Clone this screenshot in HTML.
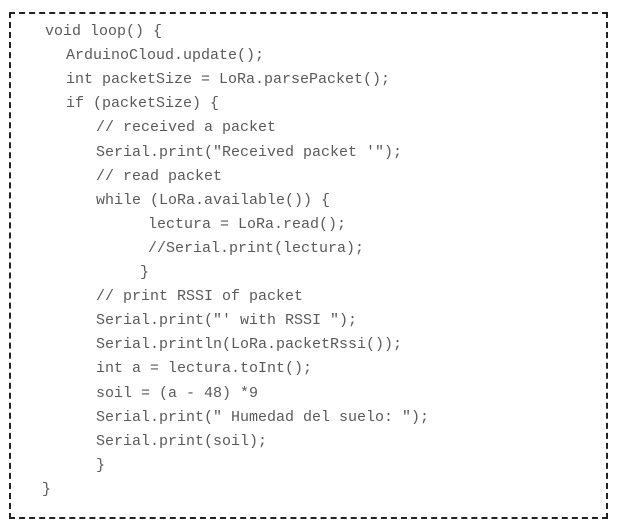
<!DOCTYPE html>
<html><head><style>
html,body{margin:0;padding:0;background:#fff;width:618px;height:530px;overflow:hidden}
.box{position:absolute;left:9px;top:12px;width:599px;height:507px;border:2px dashed #222;box-sizing:border-box}
.l{position:absolute;font-family:"Liberation Mono",monospace;font-size:15px;line-height:24px;color:#5a5a5a;white-space:pre}
</style></head><body>
<div class="box"></div>
<div class="l" style="left:45px;top:20px">void loop() {</div>
<div class="l" style="left:66px;top:44px">ArduinoCloud.update();</div>
<div class="l" style="left:66px;top:68px">int packetSize = LoRa.parsePacket();</div>
<div class="l" style="left:66px;top:92px">if (packetSize) {</div>
<div class="l" style="left:96px;top:116px">// received a packet</div>
<div class="l" style="left:96px;top:141px">Serial.print("Received packet '");</div>
<div class="l" style="left:96px;top:165px">// read packet</div>
<div class="l" style="left:96px;top:189px">while (LoRa.available()) {</div>
<div class="l" style="left:148px;top:213px">lectura = LoRa.read();</div>
<div class="l" style="left:148px;top:237px">//Serial.print(lectura);</div>
<div class="l" style="left:140px;top:261px">}</div>
<div class="l" style="left:96px;top:285px">// print RSSI of packet</div>
<div class="l" style="left:96px;top:309px">Serial.print("' with RSSI ");</div>
<div class="l" style="left:96px;top:333px">Serial.println(LoRa.packetRssi());</div>
<div class="l" style="left:96px;top:357px">int a = lectura.toInt();</div>
<div class="l" style="left:96px;top:382px">soil = (a - 48) *9</div>
<div class="l" style="left:96px;top:406px">Serial.print(" Humedad del suelo: ");</div>
<div class="l" style="left:96px;top:430px">Serial.print(soil);</div>
<div class="l" style="left:96px;top:454px">}</div>
<div class="l" style="left:42px;top:478px">}</div>
</body></html>
